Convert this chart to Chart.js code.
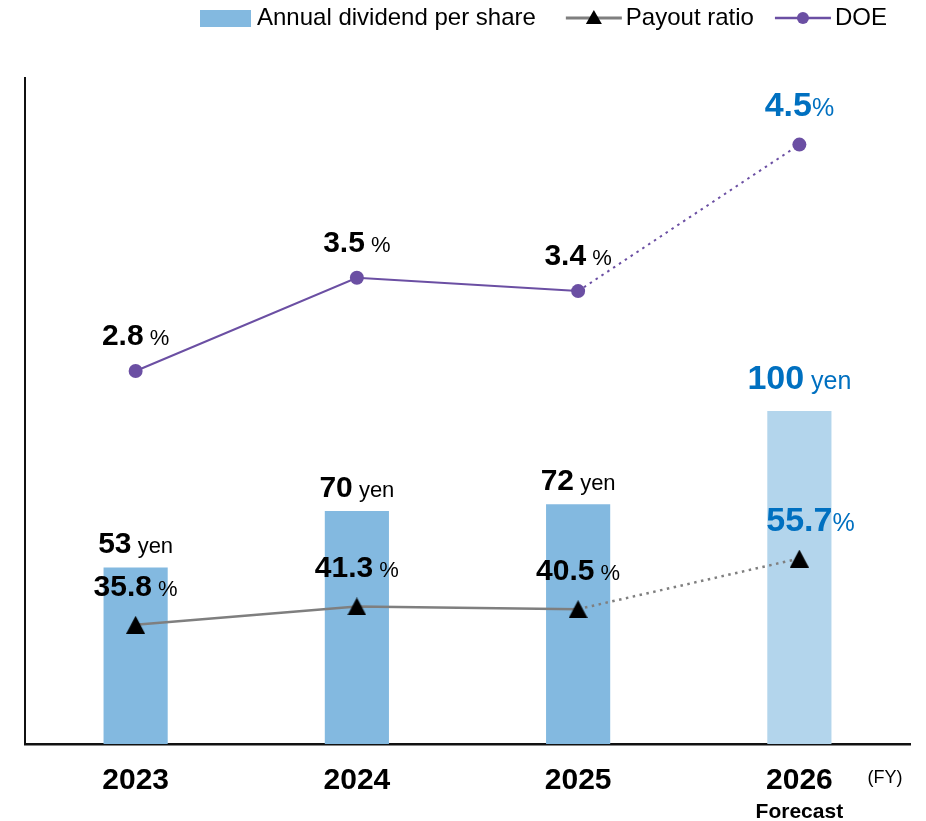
<!DOCTYPE html>
<html>
<head>
<meta charset="utf-8">
<title>Dividend</title>
<script src="https://cdn.jsdelivr.net/npm/chart.js@4.4.1/dist/chart.umd.min.js"></script>
<style>
  html, body { margin: 0; padding: 0; background: #fff; }
  #wrap { width: 926px; height: 821px; }
</style>
</head>
<body>
<div id="wrap"><canvas id="dividendChart" width="926" height="821"></canvas></div>
<script>
// chart data
const years = ['2023', '2024', '2025', '2026'];
const dividend = [53, 70, 72, 100];
const payoutRatio = [35.8, 41.3, 40.5, 55.7];
const doe = [2.8, 3.5, 3.4, 4.5];
const forecastIndex = 3;

const FONT = '"Liberation Sans", Arial, sans-serif';
const barColor = '#83B9E0';
const barForecast = '#B3D5EC';
const blue = '#0070C0';
const gray = '#7F7F7F';
const purple = '#6B4FA3';

// dotted line for the forecast part
const forecastDash = ctx => ctx.p1DataIndex === forecastIndex ? [2.5, 4.5] : undefined;

// triangle marker centred on its box (like the office chart marker)
const triangle = document.createElement('canvas');
triangle.width = 19;
triangle.height = 18;
(function () {
    const t = triangle.getContext('2d');
    t.fillStyle = '#000';
    t.beginPath();
    t.moveTo(9.5, 0);
    t.lineTo(19, 18);
    t.lineTo(0, 18);
    t.closePath();
    t.fill();
})();

// number (bold) + unit (regular) above each mark
const valueLabels = {
    id: 'valueLabels',
    afterDatasetsDraw(chart) {
        const ctx = chart.ctx;
        chart.data.datasets.forEach((ds, di) => {
            const meta = chart.getDatasetMeta(di);
            meta.data.forEach((el, i) => {
                const fc = i === forecastIndex;
                const numSize = fc ? 34 : 30;
                const unitSize = fc ? 25 : 22;
                const num = ds.labelDigits ? ds.data[i].toFixed(ds.labelDigits) : String(ds.data[i]);
                const unit = (fc && ds.labelUnit === '%') ? '%' : ' ' + ds.labelUnit;
                const lift = fc ? ds.labelLiftForecast : ds.labelLift;

                ctx.save();
                ctx.fillStyle = fc ? blue : '#000';
                ctx.textBaseline = 'alphabetic';
                ctx.textAlign = 'left';
                ctx.font = 'bold ' + numSize + 'px ' + FONT;
                const w1 = ctx.measureText(num).width;
                ctx.font = unitSize + 'px ' + FONT;
                const w2 = ctx.measureText(unit).width;
                // the forecast payout label is centred on its number only
                const x0 = (fc && ds.labelNumberCentred) ? el.x - w1 / 2 : el.x - (w1 + w2) / 2;
                const y = el.y - lift + numSize * 0.716 / 2;
                ctx.font = 'bold ' + numSize + 'px ' + FONT;
                ctx.fillText(num, x0, y);
                ctx.font = unitSize + 'px ' + FONT;
                ctx.fillText(unit, x0 + w1, y);
                ctx.restore();
            });
        });
    }
};

// "Forecast" under the last year and the (FY) note
const axisNotes = {
    id: 'axisNotes',
    afterDraw(chart) {
        const ctx = chart.ctx;
        const x = chart.scales.x;
        ctx.save();
        ctx.fillStyle = '#000';
        ctx.textAlign = 'center';
        ctx.textBaseline = 'middle';
        ctx.font = 'bold 21px ' + FONT;
        ctx.fillText('Forecast', x.getPixelForValue(forecastIndex), 812);
        ctx.font = '18px ' + FONT;
        ctx.fillText('(FY)', chart.chartArea.right - 25, 778);
        ctx.restore();
    }
};

// legend: box / line+triangle / line+circle
const topLegend = {
    id: 'topLegend',
    afterDraw(chart) {
        const ctx = chart.ctx;
        const cy = 18;
        const ds = chart.data.datasets;
        ctx.save();
        ctx.font = '24px ' + FONT;
        ctx.textBaseline = 'middle';
        ctx.fillStyle = '#000';

        let x = 200;
        // bars
        ctx.fillStyle = barColor;
        ctx.fillRect(x, cy - 8, 51, 17);
        ctx.fillStyle = '#000';
        ctx.fillText(ds[2].label, x + 57, cy);
        x += 57 + ctx.measureText(ds[2].label).width + 30;

        // payout
        ctx.strokeStyle = gray;
        ctx.lineWidth = 3;
        ctx.beginPath(); ctx.moveTo(x, cy); ctx.lineTo(x + 56, cy); ctx.stroke();
        ctx.fillStyle = '#000';
        ctx.beginPath();
        ctx.moveTo(x + 28, cy - 8); ctx.lineTo(x + 36, cy + 6); ctx.lineTo(x + 20, cy + 6);
        ctx.closePath(); ctx.fill();
        ctx.fillText(ds[0].label, x + 60, cy);
        x += 60 + ctx.measureText(ds[0].label).width + 21;

        // doe
        ctx.strokeStyle = purple;
        ctx.lineWidth = 2.5;
        ctx.beginPath(); ctx.moveTo(x, cy); ctx.lineTo(x + 56, cy); ctx.stroke();
        ctx.fillStyle = purple;
        ctx.beginPath(); ctx.arc(x + 28, cy, 6, 0, Math.PI * 2); ctx.fill();
        ctx.fillStyle = '#000';
        ctx.fillText(ds[1].label, x + 60, cy);
        ctx.restore();
    }
};

const ctx = document.getElementById('dividendChart').getContext('2d');

new Chart(ctx, {
    data: {
        labels: years,
        datasets: [
            {
                type: 'line',
                label: 'Payout ratio',
                data: payoutRatio,
                yAxisID: 'y',
                order: 1,
                borderColor: gray,
                borderWidth: 2.5,
                tension: 0,
                pointStyle: triangle,
                pointRadius: 10,
                segment: { borderDash: forecastDash },
                labelUnit: '%',
                labelDigits: 1,
                labelLift: 40,
                labelLiftForecast: 40,
                labelNumberCentred: true
            },
            {
                type: 'line',
                label: 'DOE',
                data: doe,
                yAxisID: 'yDoe',
                order: 0,
                borderColor: purple,
                borderWidth: 2,
                tension: 0,
                pointRadius: 7,
                pointBackgroundColor: purple,
                pointBorderColor: purple,
                pointBorderWidth: 0,
                segment: { borderDash: forecastDash },
                labelUnit: '%',
                labelDigits: 1,
                labelLift: 37,
                labelLiftForecast: 41
            },
            {
                type: 'bar',
                label: 'Annual dividend per share',
                data: dividend,
                yAxisID: 'y',
                order: 2,
                backgroundColor: dividend.map((v, i) => i === forecastIndex ? barForecast : barColor),
                barPercentage: 0.29,
                categoryPercentage: 1,
                labelUnit: 'yen',
                labelDigits: 0,
                labelLift: 25,
                labelLiftForecast: 34
            }
        ]
    },
    options: {
        responsive: false,
        animation: false,
        events: [],
        layout: {
            padding: { top: 78, left: 25, right: 16, bottom: 0 }
        },
        plugins: {
            legend: { display: false },
            tooltip: { enabled: false }
        },
        scales: {
            x: {
                grid: { display: false },
                border: { display: true, color: '#111', width: 2.5 },
                ticks: {
                    color: '#000',
                    padding: 11,
                    font: { family: FONT, size: 30, weight: 'bold' }
                },
                afterFit: scale => { scale.height = 77; }
            },
            y: {
                min: 0,
                max: 200,
                grid: { display: false, drawTicks: false },
                border: { display: true, color: '#111', width: 2 },
                ticks: { display: false }
            },
            yDoe: {
                display: false,
                min: 0,
                max: 5
            }
        }
    },
    plugins: [valueLabels, axisNotes, topLegend]
});
</script>
</body>
</html>
